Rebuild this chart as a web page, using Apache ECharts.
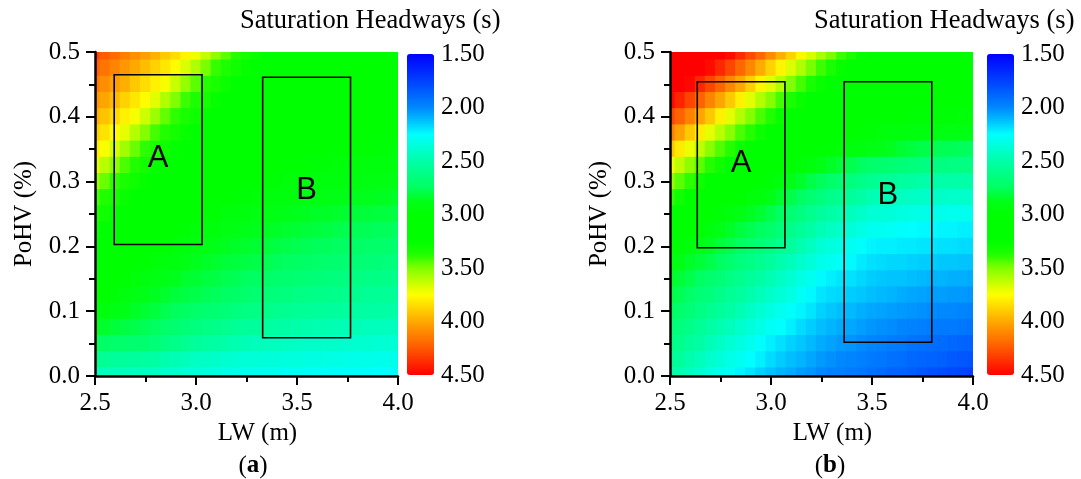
<!DOCTYPE html>
<html>
<head>
<meta charset="utf-8">
<script src="https://cdn.jsdelivr.net/npm/echarts@6/dist/echarts.min.js"></script>
<style>
html,body{margin:0;padding:0;background:#ffffff;}
#chart{width:1081px;height:479px;}
</style>
</head>
<body>
<div id="chart"></div>
<script>
// ---------------- DATA ----------------
// Lane width (m), column positions of the estimated grid
const lwValues = [2.5,2.55,2.6,2.65,2.7,2.75,2.8,2.85,2.9,2.95,3.0,3.05,3.1,3.15,3.2,3.25,3.3,3.35,3.4,3.45,3.5,3.55,3.6,3.65,3.7,3.75,3.8,3.85,3.9,3.95,4.0];
// Proportion of heavy vehicles, row positions (top row first)
const pohvValues = [0.5,0.475,0.45,0.425,0.4,0.375,0.35,0.325,0.3,0.275,0.25,0.225,0.2,0.175,0.15,0.125,0.1,0.075,0.05,0.025,0];

// Panel (a): saturation headway (s), rows follow pohvValues, columns follow lwValues
const headwayA = [
[4.30,4.24,4.19,4.13,4.08,4.03,3.97,3.90,3.85,3.78,3.72,3.63,3.53,3.45,3.38,3.33,3.29,3.25,3.20,3.16,3.13,3.10,3.07,3.05,3.04,3.03,3.02,3.02,3.01,3.01,3.00],
[4.22,4.16,4.11,4.05,4.00,3.94,3.88,3.82,3.76,3.68,3.59,3.49,3.40,3.36,3.31,3.27,3.22,3.19,3.15,3.12,3.09,3.06,3.05,3.03,3.02,3.02,3.01,3.01,3.00,3.00,3.00],
[4.14,4.08,4.03,3.98,3.91,3.85,3.79,3.73,3.64,3.54,3.45,3.38,3.34,3.29,3.25,3.20,3.17,3.13,3.10,3.08,3.06,3.04,3.03,3.02,3.02,3.01,3.01,3.00,3.00,3.00,3.00],
[4.06,4.01,3.95,3.88,3.82,3.76,3.69,3.59,3.50,3.41,3.36,3.32,3.27,3.23,3.19,3.15,3.12,3.09,3.06,3.05,3.04,3.03,3.02,3.01,3.01,3.00,3.00,3.00,3.00,3.00,3.00],
[3.98,3.92,3.86,3.79,3.73,3.65,3.55,3.46,3.39,3.34,3.30,3.25,3.21,3.17,3.14,3.10,3.08,3.06,3.04,3.03,3.02,3.02,3.01,3.01,3.00,3.00,3.00,3.00,3.00,3.00,3.00],
[3.89,3.83,3.76,3.70,3.60,3.51,3.42,3.37,3.32,3.28,3.23,3.19,3.15,3.12,3.09,3.07,3.05,3.04,3.03,3.02,3.01,3.01,3.00,3.00,3.00,3.00,3.00,3.00,3.00,2.99,2.99],
[3.80,3.74,3.66,3.56,3.47,3.39,3.35,3.30,3.26,3.21,3.17,3.14,3.11,3.08,3.06,3.04,3.03,3.02,3.02,3.01,3.01,3.00,3.00,2.99,2.99,2.99,2.98,2.98,2.97,2.97,2.96],
[3.70,3.61,3.52,3.43,3.37,3.32,3.28,3.24,3.19,3.16,3.12,3.09,3.07,3.05,3.04,3.03,3.02,3.01,3.00,2.99,2.99,2.98,2.97,2.97,2.96,2.95,2.95,2.94,2.94,2.93,2.93],
[3.56,3.47,3.39,3.35,3.30,3.26,3.22,3.18,3.14,3.11,3.08,3.06,3.04,3.03,3.02,3.02,3.00,2.99,2.97,2.96,2.95,2.94,2.94,2.93,2.93,2.92,2.92,2.91,2.91,2.90,2.90],
[3.43,3.37,3.33,3.28,3.24,3.20,3.16,3.13,3.10,3.07,3.05,3.03,3.01,3.00,2.98,2.97,2.96,2.94,2.94,2.93,2.92,2.91,2.90,2.90,2.89,2.88,2.87,2.87,2.86,2.86,2.85],
[3.35,3.31,3.26,3.22,3.18,3.14,3.11,3.07,3.05,3.03,3.01,2.99,2.98,2.95,2.94,2.92,2.91,2.90,2.89,2.88,2.87,2.86,2.85,2.85,2.84,2.83,2.82,2.82,2.81,2.81,2.80],
[3.29,3.24,3.20,3.16,3.13,3.10,3.06,3.03,3.00,2.98,2.96,2.94,2.93,2.91,2.89,2.88,2.87,2.86,2.85,2.84,2.83,2.82,2.81,2.80,2.79,2.78,2.77,2.77,2.76,2.76,2.75],
[3.22,3.18,3.15,3.11,3.09,3.06,3.03,2.99,2.96,2.94,2.91,2.90,2.88,2.86,2.85,2.84,2.83,2.82,2.80,2.79,2.78,2.77,2.76,2.76,2.75,2.74,2.73,2.72,2.72,2.71,2.70],
[3.17,3.12,3.08,3.05,3.01,2.99,2.96,2.93,2.92,2.89,2.87,2.85,2.84,2.82,2.81,2.80,2.79,2.78,2.76,2.75,2.74,2.73,2.72,2.71,2.70,2.69,2.68,2.67,2.67,2.66,2.65],
[3.12,3.07,3.02,2.99,2.96,2.92,2.91,2.88,2.87,2.84,2.83,2.81,2.80,2.78,2.77,2.75,2.74,2.73,2.71,2.70,2.69,2.68,2.67,2.66,2.65,2.64,2.63,2.62,2.62,2.61,2.60],
[3.05,3.01,2.97,2.93,2.90,2.88,2.86,2.84,2.82,2.80,2.79,2.77,2.76,2.74,2.73,2.71,2.69,2.68,2.66,2.65,2.63,2.62,2.61,2.61,2.60,2.59,2.58,2.57,2.57,2.56,2.55],
[2.96,2.93,2.90,2.88,2.85,2.83,2.81,2.78,2.76,2.74,2.72,2.70,2.69,2.67,2.65,2.63,2.62,2.61,2.59,2.58,2.57,2.56,2.55,2.55,2.54,2.53,2.52,2.52,2.51,2.51,2.50],
[2.86,2.84,2.82,2.80,2.79,2.77,2.75,2.72,2.70,2.67,2.65,2.63,2.61,2.59,2.57,2.55,2.54,2.53,2.52,2.51,2.50,2.49,2.48,2.48,2.47,2.46,2.46,2.45,2.45,2.44,2.44],
[2.74,2.73,2.72,2.72,2.70,2.70,2.67,2.64,2.61,2.58,2.55,2.53,2.51,2.50,2.48,2.46,2.45,2.44,2.44,2.43,2.42,2.41,2.41,2.40,2.40,2.39,2.39,2.39,2.38,2.38,2.38],
[2.58,2.57,2.55,2.55,2.54,2.53,2.51,2.49,2.47,2.45,2.43,2.42,2.41,2.39,2.38,2.37,2.37,2.36,2.36,2.35,2.35,2.34,2.34,2.33,2.33,2.32,2.32,2.32,2.31,2.31,2.31],
[2.45,2.45,2.44,2.44,2.43,2.43,2.42,2.40,2.39,2.37,2.36,2.35,2.34,2.32,2.31,2.30,2.30,2.29,2.29,2.28,2.28,2.28,2.27,2.27,2.26,2.26,2.26,2.26,2.25,2.25,2.25]
];

// Panel (b): saturation headway (s)
const headwayB = [
[4.90,4.83,4.76,4.69,4.62,4.54,4.47,4.38,4.29,4.20,4.09,3.98,3.88,3.77,3.67,3.58,3.49,3.41,3.34,3.27,3.21,3.16,3.13,3.10,3.07,3.05,3.04,3.03,3.02,3.02,3.01],
[4.77,4.69,4.62,4.55,4.47,4.39,4.30,4.20,4.10,3.99,3.88,3.78,3.68,3.59,3.49,3.41,3.34,3.27,3.21,3.17,3.13,3.10,3.07,3.06,3.04,3.03,3.02,3.02,3.01,3.01,3.00],
[4.63,4.55,4.48,4.39,4.30,4.21,4.10,4.00,3.89,3.78,3.69,3.60,3.50,3.42,3.34,3.28,3.21,3.17,3.13,3.10,3.07,3.06,3.04,3.03,3.02,3.02,3.01,3.01,3.00,3.00,3.00],
[4.48,4.40,4.31,4.22,4.11,4.01,3.90,3.79,3.69,3.60,3.51,3.42,3.35,3.28,3.22,3.17,3.13,3.10,3.07,3.06,3.04,3.03,3.02,3.02,3.01,3.01,3.00,3.00,3.00,3.00,3.00],
[4.31,4.22,4.12,4.01,3.91,3.79,3.70,3.60,3.51,3.43,3.37,3.28,3.22,3.17,3.13,3.10,3.07,3.06,3.04,3.03,3.02,3.02,3.00,3.00,2.98,2.98,2.98,2.97,2.97,2.96,2.96],
[4.13,4.02,3.91,3.80,3.70,3.61,3.52,3.43,3.38,3.29,3.22,3.18,3.14,3.11,3.08,3.06,3.04,3.01,3.01,2.99,2.97,2.96,2.94,2.94,2.93,2.92,2.92,2.91,2.91,2.90,2.90],
[3.92,3.81,3.71,3.62,3.52,3.44,3.38,3.29,3.23,3.18,3.14,3.11,3.07,3.04,3.03,3.00,2.99,2.96,2.94,2.92,2.90,2.88,2.86,2.83,2.81,2.79,2.78,2.77,2.77,2.76,2.75],
[3.72,3.62,3.53,3.45,3.38,3.30,3.23,3.18,3.14,3.11,3.08,3.03,3.00,2.96,2.93,2.89,2.85,2.82,2.78,2.75,2.72,2.70,2.69,2.67,2.66,2.64,2.64,2.64,2.63,2.63,2.63],
[3.54,3.45,3.39,3.30,3.24,3.18,3.12,3.08,3.03,3.00,2.97,2.93,2.88,2.84,2.79,2.76,2.72,2.68,2.65,2.61,2.58,2.56,2.55,2.53,2.52,2.50,2.50,2.50,2.50,2.50,2.50],
[3.39,3.31,3.24,3.18,3.13,3.10,3.04,3.00,2.96,2.93,2.89,2.84,2.79,2.74,2.69,2.65,2.61,2.58,2.54,2.51,2.47,2.46,2.45,2.43,2.42,2.41,2.41,2.41,2.40,2.40,2.40],
[3.24,3.17,3.11,3.07,3.02,2.97,2.93,2.90,2.86,2.83,2.79,2.74,2.69,2.64,2.59,2.54,2.51,2.48,2.44,2.41,2.38,2.37,2.36,2.34,2.33,2.32,2.31,2.31,2.30,2.30,2.29],
[3.14,3.08,3.02,2.98,2.93,2.89,2.85,2.81,2.78,2.75,2.72,2.66,2.61,2.56,2.51,2.46,2.43,2.40,2.36,2.33,2.30,2.29,2.28,2.26,2.25,2.24,2.24,2.23,2.23,2.22,2.22],
[3.02,2.97,2.93,2.89,2.86,2.82,2.79,2.75,2.71,2.67,2.64,2.59,2.54,2.48,2.43,2.38,2.35,2.32,2.29,2.26,2.23,2.22,2.22,2.21,2.21,2.20,2.20,2.19,2.19,2.18,2.18],
[2.93,2.89,2.85,2.82,2.79,2.75,2.71,2.66,2.62,2.58,2.54,2.49,2.45,2.40,2.36,2.31,2.29,2.26,2.24,2.21,2.19,2.18,2.17,2.17,2.16,2.15,2.15,2.14,2.14,2.13,2.13],
[2.86,2.82,2.79,2.74,2.71,2.67,2.63,2.59,2.55,2.51,2.47,2.42,2.38,2.33,2.29,2.24,2.22,2.20,2.19,2.17,2.15,2.14,2.13,2.13,2.12,2.11,2.10,2.10,2.09,2.09,2.08],
[2.81,2.77,2.72,2.68,2.65,2.61,2.57,2.53,2.49,2.45,2.41,2.37,2.33,2.28,2.24,2.20,2.18,2.17,2.15,2.14,2.12,2.11,2.10,2.08,2.07,2.06,2.05,2.05,2.04,2.04,2.03],
[2.76,2.71,2.67,2.63,2.59,2.55,2.51,2.47,2.42,2.38,2.34,2.30,2.27,2.23,2.20,2.16,2.14,2.12,2.11,2.09,2.07,2.06,2.05,2.04,2.03,2.02,2.01,2.00,2.00,1.99,1.98],
[2.69,2.65,2.61,2.56,2.52,2.48,2.44,2.40,2.36,2.32,2.28,2.25,2.22,2.18,2.15,2.12,2.10,2.08,2.07,2.05,2.03,2.02,2.01,1.99,1.98,1.97,1.96,1.95,1.95,1.94,1.93],
[2.64,2.60,2.55,2.51,2.46,2.42,2.38,2.34,2.30,2.26,2.22,2.19,2.16,2.14,2.11,2.08,2.06,2.04,2.03,2.01,1.99,1.98,1.96,1.95,1.93,1.92,1.91,1.90,1.89,1.88,1.87],
[2.58,2.54,2.49,2.45,2.40,2.36,2.32,2.29,2.25,2.22,2.18,2.15,2.12,2.10,2.07,2.04,2.02,2.00,1.99,1.97,1.95,1.94,1.92,1.91,1.89,1.88,1.87,1.86,1.84,1.83,1.82],
[2.52,2.48,2.43,2.39,2.34,2.30,2.27,2.23,2.20,2.16,2.13,2.10,2.08,2.05,2.03,2.00,1.98,1.97,1.95,1.94,1.92,1.90,1.88,1.87,1.85,1.83,1.81,1.80,1.78,1.77,1.75]
];

// Marked regions (data coordinates)
const regionsA = [
  {name: 'A', lw: [2.595, 3.03], pohv: [0.203, 0.465]},
  {name: 'B', lw: [3.33, 3.765], pohv: [0.059, 0.461]}
];
const regionsB = [
  {name: 'A', lw: [2.635, 3.069], pohv: [0.198, 0.454]},
  {name: 'B', lw: [3.362, 3.796], pohv: [0.052, 0.454]}
];

// Colour scale range and labels
const scaleMin = 1.5;
const scaleMax = 4.5;
const titleText = 'Saturation Headways (s)';

// ---------------- CHART ----------------
const SERIF = '"Liberation Serif", "Times New Roman", serif';
const SANS = '"Liberation Sans", Arial, sans-serif';
const palette = ['#0000ff','#0020ff','#0040ff','#0064ff','#0088ff','#00c0ff','#00ffff','#00ffd4','#00ffa8','#00ff84','#00ff60','#00ff18','#00ff00','#00ff00','#00ff00','#20ff00','#80ff00','#c0ff00','#ffff00','#ffd400','#ffa800','#ff8000','#ff5800','#ff2c00','#ff0000'];

const halfW = Math.abs(lwValues[1] - lwValues[0]) / 2;
const halfH = Math.abs(pohvValues[0] - pohvValues[1]) / 2;

function gridData(values) {
  const out = [];
  pohvValues.forEach(function (p, j) {
    lwValues.forEach(function (lw, i) {
      if (values[j] && values[j][i] != null) out.push([lw, p, values[j][i]]);
    });
  });
  return out;
}

function renderCell(params, api) {
  const lw = api.value(0), p = api.value(1);
  const tl = api.coord([lw - halfW, p + halfH]);
  const br = api.coord([lw + halfW, p - halfH]);
  const cs = params.coordSys;
  const shape = echarts.graphic.clipRectByRect(
    {x: tl[0] - 0.5, y: tl[1] - 0.5, width: br[0] - tl[0] + 1, height: br[1] - tl[1] + 1},
    {x: cs.x, y: cs.y, width: cs.width, height: cs.height}
  );
  if (!shape) return;
  return {type: 'rect', shape: shape, style: {fill: api.visual('color')}, silent: true};
}

function boxRenderer(regions) {
  return function (params, api) {
    const r = regions[params.dataIndex];
    const a = api.coord([r.lw[0], r.pohv[1]]);
    const b = api.coord([r.lw[1], r.pohv[0]]);
    const dy = r.name === 'B' ? -17 : -1;
    return {
      type: 'group',
      children: [
        {type: 'rect', shape: {x: a[0], y: a[1], width: b[0] - a[0], height: b[1] - a[1]},
         style: {fill: 'none', stroke: '#000', lineWidth: 1.6}},
        {type: 'text', x: (a[0] + b[0]) / 2, y: (a[1] + b[1]) / 2 + dy,
         style: {text: r.name, fontFamily: SANS, fontSize: 31, fill: '#000', align: 'center', verticalAlign: 'middle'}}
      ]
    };
  };
}

function xAxisFor(gridIndex) {
  return {
    type: 'value', gridIndex: gridIndex, min: 2.5, max: 4.0, interval: 0.5, z: 10,
    name: 'LW (m)', nameLocation: 'middle', nameGap: 40,
    nameTextStyle: {fontFamily: SERIF, fontSize: 25, color: '#000', padding: [0, 0, 0, 22]},
    axisLine: {show: true, onZero: false, lineStyle: {color: '#000', width: 2.5}},
    axisTick: {show: true, inside: false, length: 9, lineStyle: {color: '#000', width: 2}},
    minorTick: {show: true, splitNumber: 2, length: 6, lineStyle: {color: '#000', width: 2}},
    splitLine: {show: false}, minorSplitLine: {show: false},
    axisLabel: {fontFamily: SERIF, fontSize: 25, color: '#000', margin: 15, formatter: function (v) { return v.toFixed(1); }}
  };
}
function yAxisFor(gridIndex) {
  return {
    type: 'value', gridIndex: gridIndex, min: 0, max: 0.5, interval: 0.1, z: 10,
    name: 'PoHV (%)', nameLocation: 'middle', nameGap: 58,
    nameTextStyle: {fontFamily: SERIF, fontSize: 25, color: '#000'},
    axisLine: {show: true, onZero: false, lineStyle: {color: '#000', width: 2.5}},
    axisTick: {show: true, inside: false, length: 9, lineStyle: {color: '#000', width: 2}},
    minorTick: {show: true, splitNumber: 2, length: 6, lineStyle: {color: '#000', width: 2}},
    splitLine: {show: false}, minorSplitLine: {show: false},
    axisLabel: {fontFamily: SERIF, fontSize: 25, color: '#000', margin: 15, formatter: function (v) { return v.toFixed(1); }}
  };
}
function barAxisFor(gridIndex) {
  return {
    type: 'value', gridIndex: gridIndex, min: scaleMin, max: scaleMax, interval: 0.5, inverse: true, position: 'right',
    axisLine: {show: false}, axisTick: {show: false}, splitLine: {show: false},
    axisLabel: {fontFamily: SERIF, fontSize: 25, color: '#000', margin: 7, formatter: function (v) { return v.toFixed(2); }}
  };
}

const chart = echarts.init(document.getElementById('chart'), null, {renderer: 'canvas'});
const option = {
  animation: false,
  backgroundColor: '#ffffff',
  grid: [
    {left: 95, top: 52, width: 303, height: 324},
    {left: 670, top: 52, width: 303, height: 324},
    {left: 407, top: 54, width: 27, height: 321},
    {left: 987, top: 54, width: 27, height: 321}
  ],
  xAxis: [
    xAxisFor(0), xAxisFor(1),
    {type: 'value', gridIndex: 2, show: false, min: 0, max: 1},
    {type: 'value', gridIndex: 3, show: false, min: 0, max: 1}
  ],
  yAxis: [yAxisFor(0), yAxisFor(1), barAxisFor(2), barAxisFor(3)],
  visualMap: [
    {type: 'continuous', seriesIndex: 0, dimension: 2, min: scaleMin, max: scaleMax, inverse: true,
     calculable: false, hoverLink: false, orient: 'vertical', itemWidth: 27, itemHeight: 321,
     left: 407, top: 54, padding: 0, inRange: {color: palette}},
    {type: 'continuous', seriesIndex: 2, dimension: 2, min: scaleMin, max: scaleMax, inverse: true,
     calculable: false, hoverLink: false, orient: 'vertical', itemWidth: 27, itemHeight: 321,
     left: 987, top: 54, padding: 0, inRange: {color: palette}}
  ],
  series: [
    {type: 'custom', xAxisIndex: 0, yAxisIndex: 0, renderItem: renderCell, data: gridData(headwayA), encode: {x: 0, y: 1}, silent: true, z: 2},
    {type: 'custom', xAxisIndex: 0, yAxisIndex: 0, renderItem: boxRenderer(regionsA),
     data: regionsA.map(function (r) { return [r.lw[0], r.pohv[0], r.lw[1], r.pohv[1]]; }), encode: {x: [0, 2], y: [1, 3]}, silent: true, z: 5},
    {type: 'custom', xAxisIndex: 1, yAxisIndex: 1, renderItem: renderCell, data: gridData(headwayB), encode: {x: 0, y: 1}, silent: true, z: 2},
    {type: 'custom', xAxisIndex: 1, yAxisIndex: 1, renderItem: boxRenderer(regionsB),
     data: regionsB.map(function (r) { return [r.lw[0], r.pohv[0], r.lw[1], r.pohv[1]]; }), encode: {x: [0, 2], y: [1, 3]}, silent: true, z: 5}
  ],
  graphic: [
    {type: 'text', x: 240, y: 8, style: {text: titleText, fontFamily: SERIF, fontSize: 26.5, fill: '#000'}},
    {type: 'text', x: 814, y: 8, style: {text: titleText, fontFamily: SERIF, fontSize: 26.5, fill: '#000'}},
    {type: 'text', x: 253, y: 466, style: {text: '{n|(}{b|a}{n|)}', align: 'center', verticalAlign: 'middle',
      rich: {n: {fontFamily: SERIF, fontSize: 25, fill: '#000'}, b: {fontFamily: SERIF, fontSize: 25, fontWeight: 'bold', fill: '#000'}}}},
    {type: 'text', x: 830, y: 466, style: {text: '{n|(}{b|b}{n|)}', align: 'center', verticalAlign: 'middle',
      rich: {n: {fontFamily: SERIF, fontSize: 25, fill: '#000'}, b: {fontFamily: SERIF, fontSize: 25, fontWeight: 'bold', fill: '#000'}}}}
  ]
};
chart.setOption(option);
</script>
</body>
</html>
